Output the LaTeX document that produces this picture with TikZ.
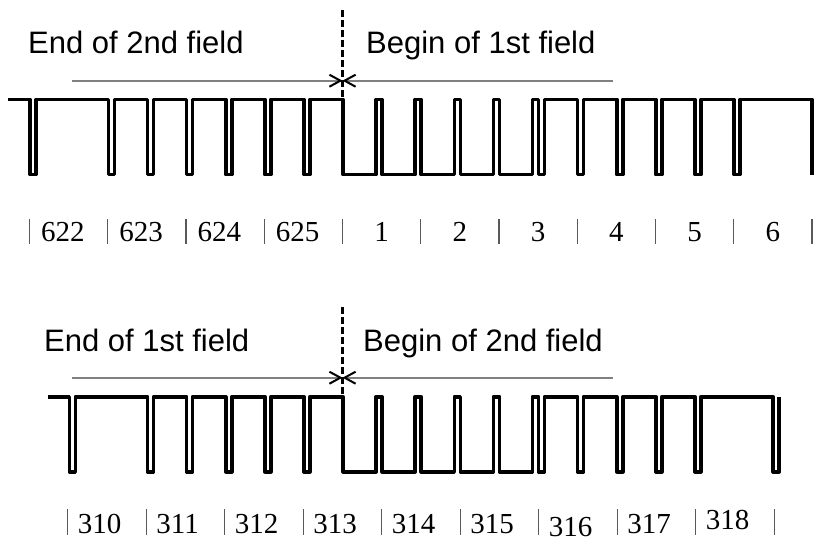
\documentclass[tikz,border=0pt]{standalone}
\usepackage{fontspec}
\setmainfont{Liberation Serif}
\setsansfont{Liberation Sans}
\usetikzlibrary{arrows.meta}

\begin{document}
\begin{tikzpicture}[x=1pt,y=-1pt,
  signal/.style={black,line width=3.6pt,line join=round},
  splitline/.style={black,line width=3.4pt,dash pattern=on 7pt off 3pt},
  fieldline/.style={gray,line width=1.7pt,-{Straight Barb[black,length=11pt,width=12pt,line width=2pt]}},
  fieldtext/.style={font=\sffamily\fontsize{31}{36}\selectfont,anchor=base west,inner sep=0pt},
  linenum/.style={font=\rmfamily\fontsize{29}{33}\selectfont,inner sep=0pt},
  linetick/.style={black!65,line width=1.1pt}]

  \useasboundingbox (0,0) rectangle (817,543);

  \node[fieldtext] (end2) at (28,54) {End of 2nd field};
  \node[fieldtext] (begin1) at (366,53.5) {Begin of 1st field};
  \coordinate (cut1) at (342.5,80.7);
  \coordinate (left1) at (71.7,80.7);
  \coordinate (right1) at (612.7,80.7);
  \draw[fieldline] (left1) -- (cut1);
  \draw[fieldline] (right1) -- (cut1);
  \draw[splitline] (342.5,10) -- (342.5,99);

  \draw[signal] (8,99.5)
    \foreach \k in {-8,-6,-5,-4,-3,-2,-1} { -- ({343+\k*39.1},99.5) -- ++(0,75) -- ++(6,0) -- ++(0,-75) }
    \foreach \k in {0,...,4} { -- ({343+\k*39.1},99.5) -- ++(0,75) -- ({337+(\k+1)*39.1},174.5) -- ++(0,-75) }
    \foreach \k in {5,...,10} { -- ({343+\k*39.1},99.5) -- ++(0,75) -- ++(6,0) -- ++(0,-75) }
    -- ({343+12*39.1},99.5) -- ++(0,75);

  \foreach \n [count=\i from 0] in {622,623,624,625} {
    \draw[linetick] ({29.5+\i*78.25},219) -- ++(0,24.5);
    \node[linenum,anchor=base west] (a\n) at ({41+\i*78.25},241.7) {\n};
  }
  \foreach \n [count=\i from 4] in {1,...,6} {
    \draw[linetick] ({29.5+\i*78.25},219) -- ++(0,24.5);
    \node[linenum,anchor=base] (a\n) at ({68.5+\i*78.25},241.7) {\n};
  }
  \draw[linetick] (812,219) -- ++(0,24.5);

  \node[fieldtext] (end1) at (44,351) {End of 1st field};
  \node[fieldtext] (begin2) at (363,351.5) {Begin of 2nd field};
  \coordinate (cut2) at (342.5,377.7);
  \coordinate (left2) at (71.7,377.7);
  \coordinate (right2) at (612.7,377.7);
  \draw[fieldline] (left2) -- (cut2);
  \draw[fieldline] (right2) -- (cut2);
  \draw[splitline] (342.5,307) -- (342.5,396);

  \draw[signal] (47.7,396.7)
    \foreach \k in {-7,-5,-4,-3,-2,-1} { -- ({343+\k*39.1},396.7) -- ++(0,75) -- ++(6,0) -- ++(0,-75) }
    \foreach \k in {0,...,4} { -- ({343+\k*39.1},396.7) -- ++(0,75) -- ({337+(\k+1)*39.1},471.7) -- ++(0,-75) }
    \foreach \k in {5,...,9} { -- ({343+\k*39.1},396.7) -- ++(0,75) -- ++(6,0) -- ++(0,-75) }
    -- ({343+11*39.1},396.7) -- ++(0,75) -- ++(6,0) -- ++(0,-75);

  \foreach \n/\dy [count=\i from 0] in {310/0,311/0,312/0,313/0,314/0,315/0,316/3,317/0,318/-4} {
    \draw[linetick] ({67.7+\i*78.5},509) -- ++(0,26);
    \node[linenum,anchor=base west] (b\n) at ({77.7+\i*78.5},533+\dy) {\n};
  }
  \draw[linetick] (774.2,509) -- ++(0,26);

\end{tikzpicture}
\end{document}
